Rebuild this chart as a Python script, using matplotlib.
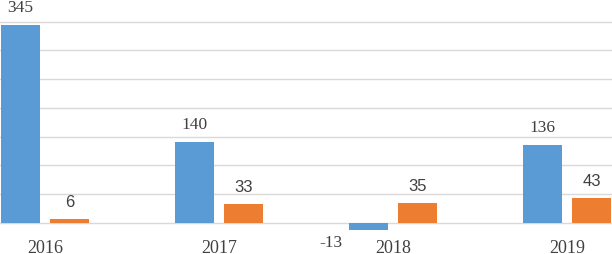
import matplotlib
matplotlib.use("Agg")
import matplotlib.pyplot as plt
import numpy as np

categories = ["2016", "2017", "2018", "2019"]
series_a = [345, 140, -13, 136]
series_b = [6, 33, 35, 43]

blue = "#5b9bd5"
orange = "#ed7d31"
txt = "#404040"

fig = plt.figure(figsize=(6.12, 2.54), dpi=100)
ax = fig.add_axes([0, 0, 1, 1])

x = np.arange(len(categories))
w = 0.224
off = 0.143

ba = ax.bar(x - off, series_a, width=w, color=blue, zorder=3)
bb = ax.bar(x + off, series_b, width=w, color=orange, zorder=3)

ax.set_xlim(-0.2586, 3.2586)
ax.set_ylim(-54.5, 387.8)
ax.set_yticks(np.arange(0, 351, 50))
ax.yaxis.grid(True, color="#d9d9d9", linewidth=1.0, zorder=0)
ax.set_axisbelow(True)
for s in ax.spines.values():
    s.set_visible(False)
ax.spines["bottom"].set_position(("data", 0))
ax.tick_params(axis="both", length=0)
ax.set_yticklabels([])
ax.set_xticks(x)
ax.set_xticklabels(categories, fontfamily="Liberation Serif", fontsize=13, color=txt)
ax.tick_params(axis="x", pad=12.5)

for rect, v in zip(ba, series_a):
    cx = rect.get_x() + rect.get_width() / 2
    if v >= 0:
        ax.annotate(str(v), (cx, v), xytext=(0, 6.5), textcoords="offset points",
                    ha="center", va="bottom", fontfamily="Liberation Serif",
                    fontsize=12.5, color=txt)
    else:
        ax.annotate(str(v), (cx, v), xytext=(-27, -3.5), textcoords="offset points",
                    ha="center", va="top", fontfamily="Liberation Serif",
                    fontsize=12.5, color=txt)

for rect, v in zip(bb, series_b):
    cx = rect.get_x() + rect.get_width() / 2
    ax.annotate(str(v), (cx, v), xytext=(0, 6.5), textcoords="offset points",
                ha="center", va="bottom", fontfamily="Liberation Sans",
                fontsize=12, color=txt)

fig.savefig("out.png", dpi=100)
